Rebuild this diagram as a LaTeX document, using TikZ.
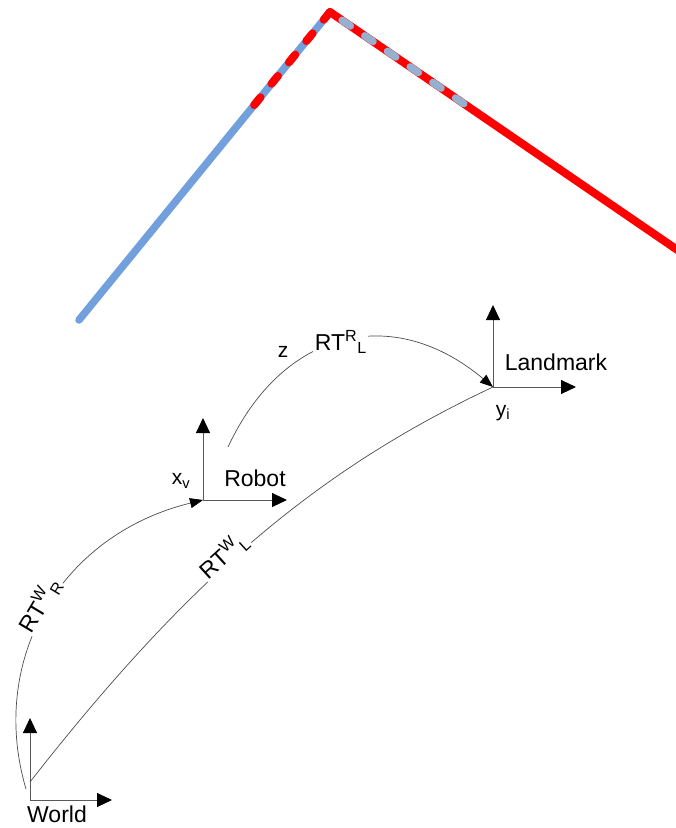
\documentclass[tikz,border=0pt]{standalone}
\usepackage{fontspec}
\setmainfont{Liberation Sans}
\usepackage{xcolor}
\usepackage{tikz}
\usetikzlibrary{arrows.meta,calc}
\definecolor{trkblue}{RGB}{114,160,220}
\definecolor{trkgrey}{RGB}{150,176,208}
\tikzset{
  trkb/.style ={draw=trkblue, line width=7.5pt, line cap=round},
  trkr/.style ={draw=red, line width=8pt, line cap=round},
  dshr/.style ={draw=red, line width=8pt, line cap=round, dash pattern=on 10pt off 17.5pt},
  dshg/.style ={draw=trkgrey, line width=7.5pt, line cap=round, dash pattern=on 10pt off 17.5pt},
  ax/.style   ={draw=black!65, line width=0.9pt, -{Triangle[length=15pt,width=14pt,color=black]}},
  xfm/.style  ={draw=black!70, line width=0.7pt, -{Triangle[length=13pt,width=10pt,color=black]}},
  xfmn/.style ={draw=black!70, line width=0.7pt},
  fname/.style={font=\fontsize{23}{26}\selectfont, inner sep=1pt},
  sym/.style  ={font=\fontsize{21}{24}\selectfont, inner sep=1pt},
  lbl/.style  ={font=\fontsize{23}{26}\selectfont, fill=white, inner sep=1.5pt},
}
\begin{document}
\begin{tikzpicture}[x=1pt, y=-1pt]
  \useasboundingbox (0,0) rectangle (676,828);

  % ---- estimated trajectory (top) ----
  \coordinate (apex) at (330,12);
  \coordinate (tstart) at (79,320);
  \coordinate (tend) at (676,249);
  \draw[trkb] (tstart) -- (apex);
  \draw[trkr] (apex) -- ($(apex)!1.06!(tend)$);
  \draw[dshr] (apex) -- ($(apex)!0.33!(tstart)$);
  \draw[dshg] ($(apex)!0.035!(tend)$) -- ($(apex)!0.39!(tend)$);

  % ---- world frame ----
  \coordinate (W) at (30,800);
  \coordinate (Wx) at (112,800);
  \coordinate (Wy) at (30,718);
  \draw[ax] (W) -- (Wx);
  \draw[ax] (W) -- (Wy);
  \node[fname] (wname) at (57,814) {World};

  % ---- robot frame ----
  \coordinate (R) at (203,500);
  \coordinate (Rx) at (287,500);
  \coordinate (Ry) at (203,418);
  \draw[ax] (R) -- (Rx);
  \draw[ax] (R) -- (Ry);
  \node[fname] (rname) at (255,478) {Robot};
  \node[sym] (xv) at (181,481) {x\textsubscript{v}};

  % ---- landmark frame ----
  \coordinate (L) at (493,387);
  \coordinate (Lx) at (576,387);
  \coordinate (Ly) at (493,305);
  \draw[ax] (L) -- (Lx);
  \draw[ax] (L) -- (Ly);
  \node[fname] (lname) at (556,362) {Landmark};
  \node[sym] (yi) at (503,413) {y\textsubscript{i}};

  % ---- transforms between frames ----
  \coordinate (wr0) at (26,789);
  \coordinate (wl0) at (30,782);
  \coordinate (rl0) at (228,447);
  \draw[xfm] (wr0) .. controls (-12,660) and (60,535) .. (R)
    node[lbl, sloped, anchor=base, pos=0.5] (twr) {RT\textsuperscript{W}\textsubscript{R}};
  \draw[xfmn] (wl0) .. controls (184,585) and (312,472) .. (L)
    node[lbl, sloped, anchor=base, pos=0.45] (twl) {RT\textsuperscript{W}\textsubscript{L}};
  \draw[xfm] (rl0) .. controls (283,329) and (393,303) .. (L)
    node[lbl, pos=0.49] (trl) {RT\textsuperscript{R}\textsubscript{L}};
  \node[sym] (zmeas) at (283,352) {z};
\end{tikzpicture}
\end{document}
